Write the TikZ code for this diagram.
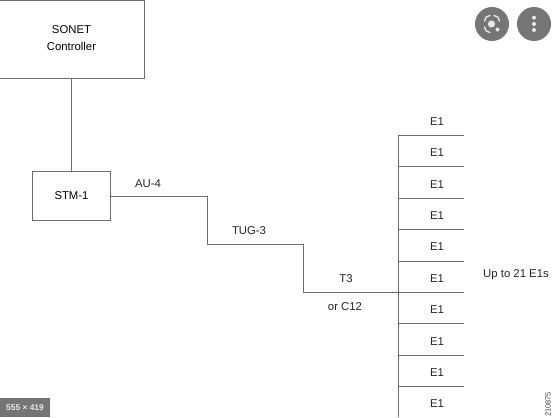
\documentclass[tikz,border=0pt]{standalone}
\usepackage{fontspec}
\setmainfont{Liberation Sans}
\definecolor{linegray}{HTML}{6E6E6E}
\definecolor{btngray}{HTML}{757575}
\definecolor{iconw}{HTML}{E8E8E8}
\tikzset{
  px/.style={x=0.75pt,y=-0.75pt},
  wire/.style={draw=linegray,line width=0.65pt},
  boxnode/.style={draw=linegray,line width=0.65pt,fill=white,inner sep=0pt,align=center,font=\fontsize{8.5}{12}\selectfont},
  lbl/.style={inner sep=0pt,text=black!85,font=\fontsize{8.5}{10}\selectfont},
  btn/.style={circle,fill=btngray,draw=none,minimum size=25.5pt,inner sep=0pt},
  icon/.style={draw=iconw,line width=1pt,line cap=round}
}
\begin{document}
\begin{tikzpicture}[px]
\useasboundingbox[fill=white] (0,0) rectangle (552,417);
% boxes
\node[boxnode,minimum width=109.5pt,minimum height=58.5pt] (sonet) at (71.5,39) {\raisebox{0.5pt}{\begin{tabular}{@{}c@{}}SONET\\[0.6pt]Controller\end{tabular}}};
\node[boxnode,minimum width=58.5pt,minimum height=36.75pt] (stm) at (71.5,196) {\raisebox{-0.6pt}{STM-1}};
\draw[wire] (sonet.south) -- (stm.north);
% staircase
\coordinate (a1) at (207,196);
\coordinate (a2) at (207,244);
\coordinate (a3) at (303,244);
\coordinate (a4) at (303,292);
\coordinate (bustop) at (398,135);
\coordinate (busbot) at (398,417);
\coordinate (busjoin) at (398,292);
\draw[wire] (stm.east) -- (a1) -- (a2) -- (a3) -- (a4) -- (busjoin);
\draw[wire] (bustop) -- (busbot);
% tributary lines and labels
\foreach \i/\ly/\ty in {1/135/121,2/166/152,3/198/184,4/229/215,5/261/246,6/292/278,7/323/309,8/355/341,9/386/372,10/417/403}{
  \coordinate (t\i) at (464,\ly);
  \coordinate (b\i) at (398,\ly);
  \node[lbl] (e\i) at (437,\ty+0.7) {E1};
}
\foreach \i in {1,...,9}{\draw[wire] (b\i) -- (t\i);}
% labels
\node[lbl] (au) at (148,183.5) {AU-4};
\node[lbl] (tug) at (249,231) {TUG-3};
\node[lbl] (tthree) at (346,278.7) {T3};
\node[lbl] (orc) at (345,306.5) {or C12};
\node[lbl] (upto) at (516,274.5) {Up to 21 E1s};
\node[inner sep=0pt,rotate=90,text=black!75,font=\fontsize{5.6}{6}\selectfont] (code) at (548,404.5) {210875};
% overlay buttons
\node[btn] (lens) at (492,24) {};
\node[btn] (menu) at (534,24) {};
\fill[iconw] (491.5,24) circle (3.6);
\fill[iconw] (497.5,29.5) circle (2);
\draw[icon] (484.5,21) arc (180:270:5.5);
\draw[icon] (494,15.5) arc (270:360:5.5);
\draw[icon] (484.5,27) arc (180:90:5.5);
\fill[iconw] (534,17.7) circle (2);
\fill[iconw] (534,24) circle (2);
\fill[iconw] (534,30) circle (2);
% size badge
\node[fill=btngray,text=iconw,inner sep=0pt,minimum width=37.5pt,minimum height=14.25pt,font=\bfseries\fontsize{6.3}{7}\selectfont] (badge) at (25,407.5) {555 × 419};
\end{tikzpicture}
\end{document}
